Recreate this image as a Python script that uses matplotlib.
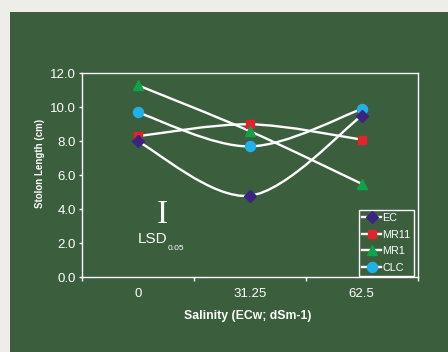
import numpy as np
import matplotlib
matplotlib.use("Agg")
import matplotlib.pyplot as plt
from matplotlib.path import Path
from matplotlib.patches import PathPatch, Rectangle
from matplotlib.lines import Line2D

# Stolon length (cm) at three salinity levels (ECw, dS/m)
salinity = ["0", "31.25", "62.5"]
ec = [8.0, 4.8, 9.5]
mr11 = [8.3, 9.0, 8.1]
mr1 = [11.3, 8.6, 5.5]
clc = [9.7, 7.7, 9.9]

series = [
    ("EC", ec, "D", "#3b2481", 6.0),
    ("MR11", mr11, "s", "#e2242a", 6.3),
    ("MR1", mr1, "^", "#0fa24a", 7.0),
    ("CLC", clc, "o", "#1db3ea", 7.2),
]
marker_z = {"EC": 3.4, "MR1": 3.3, "MR11": 3.1, "CLC": 3.2}

GREEN = "#3b5e3d"
LIGHT = "#efede8"
W, H = 448, 352
sans = ["Liberation Sans", "DejaVu Sans"]


def smooth_path(xs, ys):
    """Cubic Bezier through the points, with Catmull-Rom style tangents."""
    pts = np.column_stack([xs, ys]).astype(float)
    n = len(pts)
    verts = [pts[0]]
    codes = [Path.MOVETO]
    for i in range(n - 1):
        p0 = pts[max(i - 1, 0)]
        p1 = pts[i]
        p2 = pts[i + 1]
        p3 = pts[min(i + 2, n - 1)]
        c1 = p1 + (p2 - p0) / 6.0
        c2 = p2 - (p3 - p1) / 6.0
        verts += [c1, c2, p2]
        codes += [Path.CURVE4] * 3
    return Path(verts, codes)


fig = plt.figure(figsize=(W / 100, H / 100), dpi=100)
fig.patch.set_facecolor(LIGHT)
fig.patches.append(Rectangle((10 / W, 0), 1 - 10 / W, 1 - 12 / H,
                             transform=fig.transFigure, facecolor=GREEN,
                             edgecolor="none", zorder=-5))

ax = fig.add_axes([81.7 / W, 74.7 / H, 336 / W, 204 / H])
ax.set_zorder(1)
ax.set_facecolor(GREEN)
ax.set_xlim(0, 3)
ax.set_ylim(0, 12)

x = np.arange(len(salinity)) + 0.5
for name, vals, mk, col, ms in series:
    ax.add_patch(PathPatch(smooth_path(x, vals), facecolor="none",
                           edgecolor="white", lw=1.7, zorder=2,
                           capstyle="round"))
for name, vals, mk, col, ms in series:
    ax.plot(x, vals, linestyle="none", marker=mk, ms=ms, mfc=col, mec=col,
            zorder=marker_z[name])

for s in ax.spines.values():
    s.set_color("white")
    s.set_linewidth(1.0)

ax.set_xticks(x)
ax.set_xticklabels(salinity)
ax.set_xticks([0, 1, 2, 3], minor=True)
ax.tick_params(axis="x", which="major", length=0, pad=8, colors="white",
               labelsize=9.5)
ax.tick_params(axis="x", which="minor", length=3, width=1, direction="out",
               colors="white")
for t in ax.get_xticklabels():
    t.set_fontfamily(sans)

yt = np.arange(0, 13, 2)
ax.set_yticks(yt)
ax.set_yticklabels([f"{v:.1f}" for v in yt])
ax.tick_params(axis="y", length=2, width=1, direction="out", pad=2,
               colors="white", labelsize=9.5)
for t in ax.get_yticklabels():
    t.set_fontfamily(sans)

fig.text(40 / W, 1 - 163 / H, "Stolon Length (cm)", rotation=90,
         ha="center", va="center", color="white", fontsize=7.0,
         fontweight="bold", family=sans)
fig.text(248 / W, 1 - 316 / H, "Salinity (ECw; dSm-1)", ha="center",
         va="center", color="white", fontsize=8.8, fontweight="bold",
         family=sans)

# LSD bar
fig.text(162 / W, 1 - 215 / H, "I", ha="center", va="center", color="white",
         fontsize=24, family=["Liberation Serif", "DejaVu Serif"])
fig.text(138 / W, 1 - 239 / H, "LSD", ha="left", va="center", color="white",
         fontsize=11, family=sans)
fig.text(168 / W, 1 - 249 / H, "0.05", ha="left", va="center", color="white",
         fontsize=6, family=sans)

handles = [Line2D([], [], color="white", lw=1.7, marker=mk, ms=ms,
                  mfc=col, mec=col) for _, _, mk, col, ms in series]
leg = ax.legend(handles, [s[0] for s in series], loc="lower right",
                bbox_to_anchor=((414 - 81.7) / 336, (277.3 - 276) / 204),
                frameon=True, fancybox=False, framealpha=1,
                facecolor=GREEN, edgecolor="white",
                handlelength=1.8, handletextpad=0.1, labelspacing=0.6,
                borderpad=0.3, borderaxespad=0,
                prop={"family": sans, "size": 7.8})
leg.get_frame().set_linewidth(1.0)
for t in leg.get_texts():
    t.set_color("white")

fig.savefig("out.png", dpi=100, facecolor=fig.get_facecolor())
